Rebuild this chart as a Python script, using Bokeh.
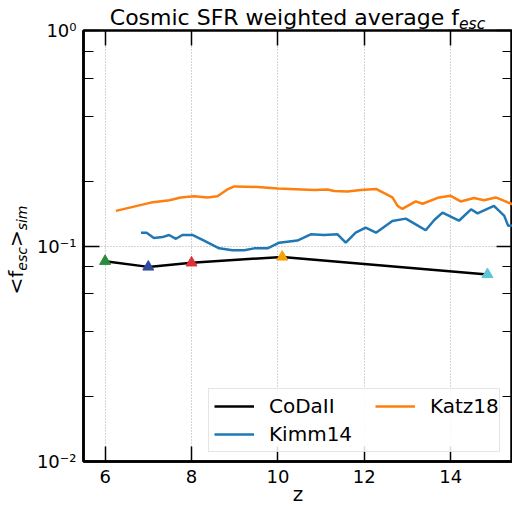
from bokeh.plotting import figure
from bokeh.models import (Range1d, LinearAxis, LogAxis, FixedTicker, Legend, LegendItem,
                          CustomJSTickFormatter, Div)
from bokeh.layouts import column, row
from bokeh.embed import file_html
from bokeh.resources import INLINE

# ---------------- data ----------------
codaii_z = [6.0, 7.0, 8.0, 10.1, 14.85]
codaii_f = [0.085, 0.080, 0.0836, 0.089, 0.0738]
codaii_marker_colors = ["#2a8c3a", "#2f4b9c", "#e0303a", "#f5a20a", "#5cc6d6"]

kimm_z = [6.83, 6.96, 7.13, 7.33, 7.48, 7.64, 7.79, 8.02, 8.29, 8.64, 8.95, 9.22, 9.45,
          9.76, 10.03, 10.45, 10.76, 11.07, 11.38, 11.57, 11.80, 12.03, 12.27, 12.65,
          12.96, 13.19, 13.42, 13.62, 13.81, 14.19, 14.47, 14.62, 15.0, 15.24, 15.33, 15.43]
kimm_f = [0.1153, 0.1153, 0.109, 0.110, 0.1125, 0.108, 0.1125, 0.1125, 0.106, 0.0976,
          0.0955, 0.0955, 0.0975, 0.0975, 0.1036, 0.106, 0.1133, 0.1125, 0.1133, 0.1036,
          0.1153, 0.1217, 0.1153, 0.1307, 0.134, 0.126, 0.1183, 0.132, 0.1428, 0.131,
          0.148, 0.1418, 0.1535, 0.138, 0.124, 0.1247]

katz_z = [6.25, 7.06, 7.49, 7.75, 8.06, 8.37, 8.6, 8.83, 8.99, 9.53, 10.0, 10.84, 11.15,
          11.3, 11.61, 11.92, 12.27, 12.65, 12.77, 12.88, 13.19, 13.35, 13.73, 14.0,
          14.23, 14.54, 14.77, 15.04, 15.24, 15.43]
katz_f = [0.1455, 0.159, 0.163, 0.168, 0.170, 0.168, 0.170, 0.183, 0.189, 0.188, 0.185,
          0.182, 0.183, 0.180, 0.179, 0.182, 0.184, 0.168, 0.1535, 0.1486, 0.161, 0.157,
          0.168, 0.171, 0.161, 0.167, 0.163, 0.168, 0.162, 0.156]

x_ticks = [6, 8, 10, 12, 14]
y_major = [0.01, 0.1, 1.0]
y_minor = [0.02, 0.04, 0.06, 0.08, 0.2, 0.4, 0.6, 0.8]
y_tick_labels = ["10\u207b\u00b2", "10\u207b\u00b9", "10\u2070"]

FONT = "DejaVu Sans"

p = figure(width=481, height=492, x_range=Range1d(5.5, 15.43), y_range=Range1d(0.01, 1.0),
           y_axis_type="log", output_backend="svg", toolbar_location=None,
           min_border_left=52, min_border_right=0, min_border_top=13, min_border_bottom=48)
p.margin = 0
p.background_fill_color = "white"
p.border_fill_color = "white"
p.border_fill_alpha = 0
p.outline_line_color = "black"
p.outline_line_width = 2.5

# bottom axis
xa = p.xaxis[0]
xa.ticker = FixedTicker(ticks=x_ticks)
xa.major_tick_in = 15
xa.major_tick_out = 0
xa.minor_tick_in = 0
xa.minor_tick_out = 0
xa.major_tick_line_width = 1.5
xa.axis_line_width = 2.5
xa.major_label_text_font = FONT
xa.major_label_text_font_size = "18px"
xa.major_label_text_color = "black"
xa.major_label_standoff = 8
xa.axis_label = "z"
xa.axis_label_text_font = FONT
xa.axis_label_text_font_size = "20px"
xa.axis_label_text_font_style = "normal"
xa.axis_label_text_color = "black"
xa.axis_label_standoff = -4

# left axis
ya = p.yaxis[0]
ya.ticker = FixedTicker(ticks=y_major, minor_ticks=y_minor)
ya.major_label_overrides = dict(zip(y_major, y_tick_labels))
ya.major_label_text_font = FONT
ya.major_label_text_font_size = "18px"
ya.major_label_text_color = "black"
ya.major_label_standoff = 7
ya.major_tick_in = 16
ya.major_tick_out = 0
ya.minor_tick_in = 10
ya.minor_tick_out = 0
ya.major_tick_line_width = 1.5
ya.minor_tick_line_width = 1.2
ya.axis_line_width = 2.5

# top axis (ticks only)
ta = LinearAxis(ticker=FixedTicker(ticks=x_ticks),
                formatter=CustomJSTickFormatter(code="return ''"))
ta.major_tick_in = 15
ta.major_tick_out = 0
ta.minor_tick_in = 0
ta.minor_tick_out = 0
ta.major_tick_line_width = 1.5
ta.major_label_standoff = 0
ta.major_label_text_font_size = "0px"
ta.axis_line_color = None
p.add_layout(ta, "above")

# right axis (ticks only)
ra = LogAxis(ticker=FixedTicker(ticks=y_major, minor_ticks=y_minor),
             formatter=CustomJSTickFormatter(code="return ''"))
ra.major_tick_in = 16
ra.major_tick_out = 0
ra.minor_tick_in = 10
ra.minor_tick_out = 0
ra.major_tick_line_width = 1.5
ra.minor_tick_line_width = 1.2
ra.major_label_standoff = 0
ra.major_label_text_font_size = "0px"
ra.axis_line_color = None
p.add_layout(ra, "right")

# grid
p.xgrid.ticker = FixedTicker(ticks=x_ticks)
p.ygrid.ticker = FixedTicker(ticks=y_major)
for g in (p.xgrid[0], p.ygrid[0]):
    g.grid_line_color = "#a8a8a8"
    g.grid_line_dash = "1 2"
    g.grid_line_width = 1

# data
r_kimm = p.line(kimm_z, kimm_f, line_color="#1f77b4", line_width=2.5)
r_katz = p.line(katz_z, katz_f, line_color="#ff7f0e", line_width=2.5)
r_cod = p.line(codaii_z, codaii_f, line_color="black", line_width=2.5)
p.scatter(codaii_z, codaii_f, marker="triangle", size=11, fill_color=codaii_marker_colors,
          line_color=codaii_marker_colors)

# legend
leg1 = Legend(items=[LegendItem(label="CoDaII", renderers=[r_cod]),
                     LegendItem(label="Kimm14", renderers=[r_kimm])],
              location=(125, 9), orientation="vertical")
leg2 = Legend(items=[LegendItem(label="Katz18", renderers=[r_katz])],
              location=(292, 43), orientation="vertical")
for lg in (leg1, leg2):
    lg.label_text_font = FONT
    lg.label_text_font_size = "20px"
    lg.label_text_color = "black"
    lg.glyph_width = 40
    lg.glyph_height = 24
    lg.label_height = 24
    lg.label_standoff = 15
    lg.spacing = 4
    lg.padding = 5
    lg.margin = 0
leg1.label_width = 225
leg1.border_line_color = "#cccccc"
leg1.border_line_width = 1
leg1.background_fill_alpha = 0.85
leg2.border_line_color = None
leg2.background_fill_alpha = 0
p.add_layout(leg1, "center")
p.add_layout(leg2, "center")

# title with subscript (HTML text)
sub = "font-size:15.5px;font-style:italic;position:relative;top:4px"
title_div = Div(
    text=("<div style=\"position:absolute;left:83px;top:5px;width:429px;text-align:center;"
          "white-space:nowrap;font-family:'DejaVu Sans';font-size:22px;line-height:26px;"
          "color:black\">Cosmic SFR weighted average f"
          f"<span style=\"{sub}\">esc</span></div>"),
    width=512, height=17, margin=0, styles={"overflow": "visible", "z-index": "5"})

# rotated y-axis label <f_esc>_sim (HTML text)
ysub = "font-size:14px;font-style:italic;position:relative;top:4px"
ylab_div = Div(
    text=("<div style=\"position:absolute;left:0px;top:0px;width:200px;height:26px;"
          "line-height:26px;text-align:center;white-space:nowrap;font-family:'DejaVu Sans';"
          "font-size:20px;color:black;transform-origin:center;"
          "transform:translate(-84px,220px) rotate(-90deg)\">&lt;f"
          f"<span style=\"{ysub}\">esc</span>&gt;<span style=\"{ysub}\">sim</span></div>"),
    width=31, height=492, margin=0)

layout = column(title_div, row(ylab_div, p, spacing=0, margin=0), spacing=0, margin=0)

open("out.html", "w").write(file_html(layout, INLINE))
